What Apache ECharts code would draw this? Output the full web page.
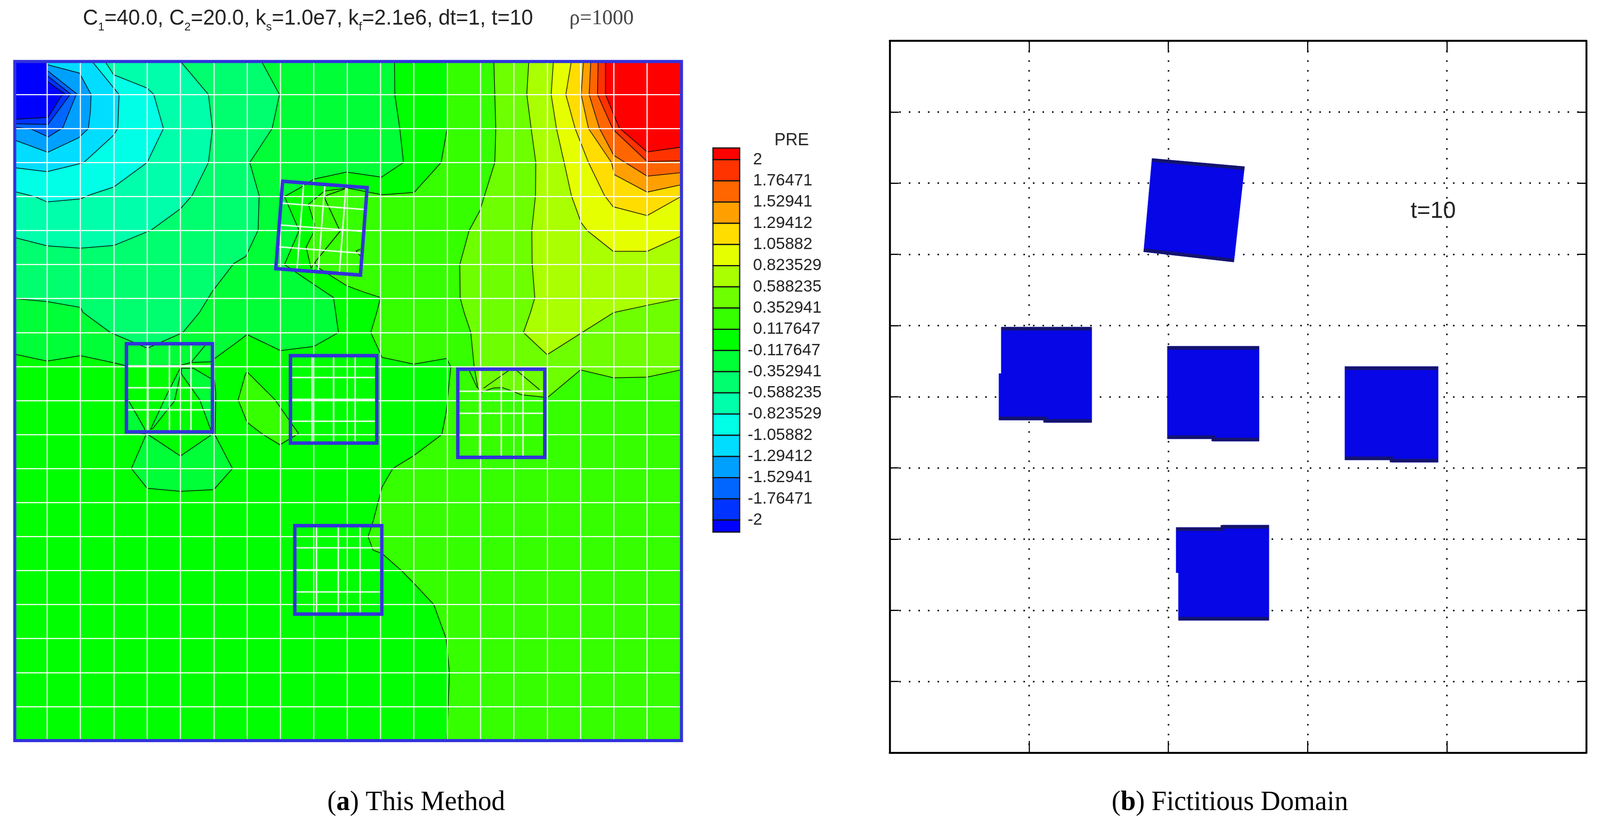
<!DOCTYPE html>
<html>
<head>
<meta charset="utf-8">
<title>PRE</title>
<script src="https://cdn.jsdelivr.net/npm/echarts@6/dist/echarts.min.js"></script>
<style>
    html, body { margin: 0; padding: 0; background: #fff; overflow: hidden; }
    #chart { width: 4190px; height: 2103px; transform-origin: 0 0; }
</style>
</head>
<body>
<div id="chart"></div>
<script>
// colour bar: levels and labels from top to bottom, one band more than levels
var levels = [2, 1.76471, 1.52941, 1.29412, 1.05882, 0.823529, 0.588235, 0.352941, 0.117647,
    -0.117647, -0.352941, -0.588235, -0.823529, -1.05882, -1.29412, -1.52941, -1.76471, -2];
var bandColors = ['#ff0000', '#ff3300', '#ff6600', '#ffa000', '#ffdd00', '#e6ff00', '#aaff00', '#6eff00', '#36ff00', '#00ff00',
    '#00ff36', '#00ff6e', '#00ffaa', '#00ffe6', '#00ddff', '#00a0ff', '#0066ff', '#0033ff', '#0000ff'];

// contour regions of the pressure field, in mesh cells (x right, y down)
var below2 = [[1, 0], [1, 0.61], [1.53, 0.98], [1.43, 1.04], [1.03, 1.67], [0, 1.73], [0, 0]];
var below176 = [[1, 0], [1, 0.44], [1.7, 0.98], [1.66, 1.04], [1.03, 1.88], [0, 1.86], [0, 0]];
var below153 = [[1, 0], [1, 0.29], [1.89, 0.98], [1.85, 1.06], [1.47, 1.98], [1.03, 2.25], [0.53, 2.02], [0, 1.96], [0, 0]];
var below129 = [[1, 0], [1, 0.12], [1.97, 0.37], [2.32, 1], [2.3, 1.48], [2.24, 2], [1.95, 2.27], [1.02, 2.7], [0, 2.33], [0, 0]];
var below106 = [[2.33, 0], [3.16, 1], [3.12, 2], [2.98, 2.21], [2.1, 3], [1.99, 3.03], [1, 3.27], [0, 3.15], [0, 0]];
var below082 = [[2.72, 0], [3, 0.42], [4, 0.81], [4.2, 1], [4.49, 2], [4, 3], [3, 3.72], [2.29, 3.95], [2, 4.07], [1, 4.16], [0.65, 4.01], [0, 3.85], [0, 0]];
var below059 = [[4.98, 0], [5.84, 1], [5.96, 2], [5.84, 3], [5.35, 3.97], [5, 4.36], [4.12, 4.99], [3, 5.44], [2, 5.52], [1, 5.45], [0, 5.2], [0, 0]];
var below035 = [[7.42, 0], [7.97, 1], [7.75, 2], [7.08, 3], [7.36, 3.97], [7.33, 4.99], [6.96, 5.76], [6.6, 5.97], [5.95, 6.8], [5.57, 7.41], [5.07, 8],
    [4.01, 8.46], [2.9, 8], [2.08, 7.41], [2, 7.26], [1, 7.09], [0, 7], [0, 0]];
var below012 = [[11.42, 0], [11.43, 1], [11.58, 2], [11.69, 3], [11.03, 3.43], [9.98, 3.28], [9, 3.49], [8.63, 3.72], [8.12, 4], [8.56, 5], [8.12, 6], [8.98, 6.57],
    [9.59, 6.97], [9.65, 7.37], [9.74, 8], [9, 8.41], [8, 8.53], [7, 8.06], [6.69, 8.29], [5.89, 8.86], [5.32, 8.88], [5.01, 8.96], [3.33, 8.97], [3, 8.89],
    [2, 8.68], [1, 8.84], [0, 8.63], [0, 0]];
var below012Lobe = [[3.96, 11.02], [3.53, 12], [4, 12.58], [5, 12.67], [6, 12.62], [6.56, 12], [6.04, 11.02], [6.06, 9.79], [6.02, 9.39], [5.89, 9.34], [5.39, 9.05],
    [5.03, 9.05], [5.03, 9.22], [5.58, 9.98], [5.89, 10.81], [5.97, 10.98], [5, 11.63], [4.06, 11.02]];
var below012Wedge = [[4.99, 9.05], [4.59, 9.83], [4.11, 10.84], [4.17, 10.82], [4.61, 10.27], [4.82, 10.02], [4.99, 9.26]];
var below012Corner = [[3.37, 9.98], [3.43, 9.98], [3.92, 10.82], [3.96, 10.98], [3.37, 10.92]];

var above012 = [[13, 0], [13, 2], [12.82, 3], [12.01, 3.88], [11.05, 3.95], [10, 3.75], [9.4, 3.96], [9.32, 4.04], [9.79, 5.02], [9.21, 5.72], [9.03, 5.94], [9.13, 6.09],
    [9.98, 6.62], [10.5, 6.81], [11, 6.97], [10.9, 7.37], [10.71, 8], [11.05, 8.73], [12, 8.93], [12.99, 8.76], [13.11, 9.01], [12.97, 10.35], [12.84, 11], [12, 11.62],
    [11.37, 12], [11.05, 12.54], [10.78, 13.55], [10.63, 14], [10.78, 14.4], [11.05, 14.5], [11.63, 15], [12, 15.37], [12.6, 16], [12.97, 17], [13.07, 18], [12.99, 20],
    [20, 20], [20, 0]];
var above012Lens = [[10, 3.75], [9.32, 3.84], [8.84, 4.23], [9.02, 4.81], [9, 5.04], [8.77, 5.49], [8.92, 6.11], [9.03, 5.94], [9.21, 5.72], [9.79, 5.02], [9.32, 4.04], [9.4, 3.96]];
var above012Island = [[7, 9.16], [7.83, 9.97], [8.18, 10.46], [8.54, 10.97], [8.31, 11.11], [7.98, 11.3], [7.45, 10.98], [7, 10.64], [6.73, 9.98], [6.95, 9.22]];
var above035 = [[14.4, 0], [14.46, 2], [14.43, 3], [13.98, 4.42], [13.66, 5], [13.38, 6], [13.39, 6.98], [13.51, 7.41], [13.71, 8], [13.81, 9], [13.92, 9.62], [14.01, 9.76],
    [14.39, 9.63], [14.66, 9.62], [15, 9.74], [15.23, 9.83], [15.82, 9.89], [16, 9.92], [17, 9.1], [17.99, 9.33], [19, 9.31], [20, 9.1], [20, 0]];
var above059 = [[15.45, 0], [15.39, 1], [15.52, 2], [15.66, 3], [15.65, 3.97], [15.54, 4.99], [15.55, 5.97], [15.63, 6.98], [15.5, 7.41], [15.29, 8], [16, 8.65], [17, 8.03],
    [18, 7.41], [19, 7.2], [20, 7], [20, 0]];
var above082 = [[16.19, 0], [16.12, 1], [16.28, 2], [16.51, 3], [16.73, 3.98], [17.02, 4.77], [17.2, 5], [17.98, 5.61], [19, 5.61], [20, 5.17], [20, 0]];
var above106 = [[16.73, 0], [16.56, 1], [16.84, 2], [17.24, 3], [17.72, 3.97], [17.98, 4.3], [19, 4.56], [20, 4.01], [20, 0]];
var above129 = [[17.09, 0], [17.02, 1], [17.24, 2], [17.93, 3], [18.02, 3.36], [19, 3.87], [20, 3.66], [20, 0]];
var above153 = [[17.31, 0], [17.26, 1], [17.57, 2], [18, 2.79], [19, 3.4], [20, 3.3], [20, 0]];
var above176 = [[17.53, 0], [17.51, 1], [17.98, 2.03], [19, 2.97], [20, 2.95], [20, 0]];
var above2 = [[17.75, 0], [17.75, 1], [18.16, 1.98], [19, 2.69], [20, 2.55], [20, 0]];
var wholeField = [[0, 0], [20, 0], [20, 20], [0, 20]];

// loose contour pieces inside the bodies
var looseContours = [
    [[5.32, 8.88], [5.74, 8.38]],
    [[13.67, 9.13], [13.9, 9.62]],
    [[14.09, 9.64], [14.58, 9.3], [14.89, 9.09], [15.08, 9.11], [15.77, 9.68]],
    [[10.4, 5.55], [10.27, 5.6], [10.4, 5.75]]
];

// bodies of the left plot: top left, top right, bottom right, bottom left corner
var meshBodies = [
    [[8.065, 3.55], [10.6, 3.74], [10.4, 6.31], [7.86, 6.12]],
    [[3.38, 8.33], [5.96, 8.33], [5.96, 10.92], [3.38, 10.92]],
    [[8.3, 8.68], [10.89, 8.68], [10.89, 11.25], [8.3, 11.25]],
    [[8.43, 13.68], [11.04, 13.68], [11.04, 16.28], [8.43, 16.28]],
    [[13.32, 9.08], [15.93, 9.08], [15.93, 11.67], [13.32, 11.67]]
];
var meshFractions = [0.25, 0.5, 0.75];
var fieldFrame = [[0.03, 0.03], [20.03, 0.03], [20.03, 20], [0.03, 20]];

// bodies of the right plot
var solidBodies = [
    [[3.766, 8.346], [5.093, 8.232], [4.94, 6.893], [3.646, 7.036]],
    [[1.601, 5.977], [2.9, 5.977], [2.9, 4.639], [2.23, 4.639], [2.23, 4.672], [1.568, 4.672], [1.568, 5.325], [1.601, 5.325]],
    [[3.986, 5.709], [5.302, 5.709], [5.302, 4.376], [4.644, 4.376], [4.644, 4.409], [3.986, 4.409]],
    [[6.535, 5.424], [7.873, 5.424], [7.873, 4.08], [7.204, 4.08], [7.204, 4.113], [6.535, 4.113]],
    [[4.112, 3.164], [4.775, 3.164], [4.775, 3.197], [5.444, 3.197], [5.444, 1.859], [4.145, 1.859], [4.145, 2.528], [4.112, 2.528]]
];
var solidEdges = [
    [[3.766, 8.325], [5.093, 8.21]],
    [[3.646, 7.06], [4.94, 6.915]],
    [[1.601, 5.955], [2.9, 5.955]],
    [[1.568, 4.695], [2.23, 4.695], [2.23, 4.662], [2.9, 4.662]],
    [[3.986, 5.685], [5.302, 5.685]],
    [[3.986, 4.432], [4.644, 4.432], [4.644, 4.399], [5.302, 4.399]],
    [[6.535, 5.4], [7.873, 5.4]],
    [[6.535, 4.135], [7.204, 4.135], [7.204, 4.103], [7.873, 4.103]],
    [[4.112, 3.14], [4.775, 3.14], [4.775, 3.173], [5.444, 3.173]],
    [[4.145, 1.883], [5.444, 1.883]]
];

var BODY_BLUE = '#3232dc';
var DARK_TEXT = '#222222';

/**
 * 取等值线某一层以上(或以下)区域的颜色
 */
function colorAbove(level) {
    return bandColors[levels.indexOf(level)];
}

function colorBelow(level) {
    return bandColors[levels.indexOf(level) + 1];
}

var fieldLayers = [
    [wholeField, colorAbove(-0.117647)],
    [below012, colorBelow(-0.117647)],
    [below012Lobe, colorBelow(-0.117647)],
    [below012Wedge, colorBelow(-0.117647)],
    [below012Corner, colorBelow(-0.117647)],
    [below035, colorBelow(-0.352941)],
    [below059, colorBelow(-0.588235)],
    [below082, colorBelow(-0.823529)],
    [below106, colorBelow(-1.05882)],
    [below129, colorBelow(-1.29412)],
    [below153, colorBelow(-1.52941)],
    [below176, colorBelow(-1.76471)],
    [below2, colorBelow(-2)],
    [above012, colorAbove(0.117647)],
    [above012Lens, colorAbove(0.117647)],
    [above012Island, colorAbove(0.117647)],
    [above035, colorAbove(0.352941)],
    [above059, colorAbove(0.588235)],
    [above082, colorAbove(0.823529)],
    [above106, colorAbove(1.05882)],
    [above129, colorAbove(1.29412)],
    [above153, colorAbove(1.52941)],
    [above176, colorAbove(1.76471)],
    [above2, colorAbove(2)]
];

function toPixels(api, ring) {
    return ring.map(function (point) {
        return api.coord(point);
    });
}

function indexData(list) {
    return list.map(function (item, index) {
        return [index];
    });
}

function renderFieldLayer(params, api) {
    var layer = fieldLayers[params.dataIndex];
    return {
        type: 'polygon',
        shape: { points: toPixels(api, layer[0]) },
        style: { fill: layer[1], stroke: 'rgba(0,0,0,0.85)', lineWidth: 2 }
    };
}

function renderLooseContour(params, api) {
    return {
        type: 'polyline',
        shape: { points: toPixels(api, looseContours[params.dataIndex]) },
        style: { fill: null, stroke: 'rgba(0,0,0,0.85)', lineWidth: 2 }
    };
}

function lerp(a, b, t) {
    return [a[0] + (b[0] - a[0]) * t, a[1] + (b[1] - a[1]) * t];
}

/**
 * 单个物体: 内部网格 + 外框
 */
function renderMeshBody(params, api) {
    var c = meshBodies[params.dataIndex];
    var children = [];
    meshFractions.forEach(function (f) {
        var lines = [[lerp(c[0], c[1], f), lerp(c[3], c[2], f)], [lerp(c[0], c[3], f), lerp(c[1], c[2], f)]];
        lines.forEach(function (line) {
            children.push({
                type: 'polyline',
                shape: { points: toPixels(api, line) },
                style: { fill: null, stroke: 'rgba(255,255,255,0.85)', lineWidth: 4 }
            });
        });
    });
    children.push({
        type: 'polygon',
        shape: { points: toPixels(api, c) },
        style: { fill: null, stroke: BODY_BLUE, lineWidth: 9 }
    });
    return { type: 'group', children: children };
}

function renderFrame(params, api) {
    return {
        type: 'polygon',
        shape: { points: toPixels(api, fieldFrame) },
        style: { fill: null, stroke: BODY_BLUE, lineWidth: 8 }
    };
}

var barMin = -2.134;
var barMax = 2.13;

function renderBarBand(params, api) {
    var i = params.dataIndex;
    var top = i === 0 ? barMax : levels[i - 1];
    var bottom = i === levels.length ? barMin : levels[i];
    var p0 = api.coord([0, top]);
    var p1 = api.coord([1, bottom]);
    var children = [{
        type: 'rect',
        shape: { x: p0[0], y: p0[1], width: p1[0] - p0[0], height: p1[1] - p0[1] },
        style: { fill: bandColors[i], stroke: '#111111', lineWidth: 3 }
    }];
    if (i < levels.length) {
        children.push({
            type: 'text',
            x: p1[0] + (levels[i] < 0 ? 21 : 35),
            y: p1[1],
            style: {
                text: String(levels[i]),
                fill: DARK_TEXT,
                font: '43px "Liberation Sans"',
                textAlign: 'left',
                textVerticalAlign: 'middle'
            }
        });
    }
    return { type: 'group', children: children };
}

function renderSolidBody(params, api) {
    return {
        type: 'polygon',
        shape: { points: toPixels(api, solidBodies[params.dataIndex]) },
        style: { fill: '#0606e6', stroke: '#0606e6', lineWidth: 1 }
    };
}

function renderSolidEdge(params, api) {
    return {
        type: 'polyline',
        shape: { points: toPixels(api, solidEdges[params.dataIndex]) },
        style: { fill: null, stroke: '#14146e', lineWidth: 9 }
    };
}

function customSeries(name, renderItem, list, axisIndex, z) {
    return {
        name: name,
        type: 'custom',
        renderItem: renderItem,
        data: indexData(list),
        xAxisIndex: axisIndex,
        yAxisIndex: axisIndex,
        coordinateSystem: 'cartesian2d',
        clip: false,
        silent: true,
        z: z
    };
}

var fieldAxisX = {
    type: 'value', gridIndex: 0, min: 0, max: 20, interval: 1, z: 3,
    axisLine: { show: false }, axisTick: { show: false }, axisLabel: { show: false },
    splitLine: { show: true, lineStyle: { color: 'rgba(255,255,255,0.92)', width: 3 } }
};
var fieldAxisY = {
    type: 'value', gridIndex: 0, min: 0, max: 20, interval: 1, inverse: true, z: 3,
    axisLine: { show: false }, axisTick: { show: false }, axisLabel: { show: false },
    splitLine: { show: true, lineStyle: { color: 'rgba(255,255,255,0.92)', width: 3 } }
};

function boxAxis(position, isSplit, max, interval, isX) {
    return {
        type: 'value', gridIndex: 2, position: position, min: 0, max: max, interval: interval,
        axisLine: { show: true, onZero: false, lineStyle: { color: '#000', width: 5 } },
        axisTick: { show: true, inside: true, length: isX ? 30 : 24, lineStyle: { color: '#000', width: 3 } },
        axisLabel: { show: false },
        splitLine: { show: isSplit, lineStyle: { color: '#111', width: 4, type: [4, 21] } }
    };
}

var chartDom = document.getElementById('chart');
// the window can come out narrower than the figure, keep the whole figure in view
if (window.innerWidth < 4190) {
    chartDom.style.transform = 'scale(' + (window.innerWidth / 4190) + ', 1)';
}

var option = {
    backgroundColor: '#ffffff',
    animation: false,
    title: [
        {
            left: 217, top: 20, padding: 0,
            text: '{m|C}{s|1}{m|=40.0, C}{s|2}{m|=20.0, k}{s|s}{m|=1.0e7, k}{s|f}{m|=2.1e6, dt=1, t=10}',
            textStyle: {
                fontWeight: 'normal',
                rich: {
                    m: { fontFamily: 'Liberation Sans', fontSize: 55, fontWeight: 'normal', lineHeight: 65, color: DARK_TEXT, verticalAlign: 'top' },
                    s: { fontFamily: 'Liberation Sans', fontSize: 30, fontWeight: 'normal', lineHeight: 65, color: DARK_TEXT, verticalAlign: 'bottom' }
                }
            }
        },
        { left: 1491, top: 20, padding: 0, text: 'ρ=1000', textStyle: { fontFamily: 'Liberation Serif', fontSize: 55, fontWeight: 'normal', color: '#444444' } },
        { left: 2028, top: 338, padding: 0, text: 'PRE', textStyle: { fontFamily: 'Liberation Sans', fontSize: 44, fontWeight: 'normal', color: DARK_TEXT } },
        { left: 3694, top: 511, padding: 0, text: 't=10', textStyle: { fontFamily: 'Liberation Sans', fontSize: 60, fontWeight: 'normal', color: DARK_TEXT } },
        {
            left: 857, top: 2021, padding: 0,
            text: '{r|(}{b|a}{r|) This Method}',
            textStyle: {
                fontWeight: 'normal',
                rich: {
                    r: { fontFamily: 'Liberation Serif', fontSize: 71, fontWeight: 'normal', color: '#000' },
                    b: { fontFamily: 'Liberation Serif', fontSize: 71, fontWeight: 'bold', color: '#000' }
                }
            }
        },
        {
            left: 2911, top: 2021, padding: 0,
            text: '{r|(}{b|b}{r|) Fictitious Domain}',
            textStyle: {
                fontWeight: 'normal',
                rich: {
                    r: { fontFamily: 'Liberation Serif', fontSize: 71, fontWeight: 'normal', color: '#000' },
                    b: { fontFamily: 'Liberation Serif', fontSize: 71, fontWeight: 'bold', color: '#000' }
                }
            }
        }
    ],
    grid: [
        { left: 36, top: 155, width: 1746, height: 1742 },
        { left: 1867, top: 379, width: 70, height: 984 },
        { left: 2330, top: 104.5, width: 1824, height: 1823.5 }
    ],
    xAxis: [
        fieldAxisX,
        { type: 'value', gridIndex: 1, min: 0, max: 1, show: false },
        boxAxis('bottom', true, 10, 2, true),
        boxAxis('top', false, 10, 2, true)
    ],
    yAxis: [
        fieldAxisY,
        { type: 'value', gridIndex: 1, min: barMin, max: barMax, show: false },
        boxAxis('left', true, 10, 1, false),
        boxAxis('right', false, 10, 1, false)
    ],
    series: [
        customSeries('field', renderFieldLayer, fieldLayers, 0, 1),
        customSeries('loose', renderLooseContour, looseContours, 0, 2),
        customSeries('bodies', renderMeshBody, meshBodies, 0, 5),
        customSeries('frame', renderFrame, [fieldFrame], 0, 6),
        customSeries('bar', renderBarBand, bandColors, 1, 2),
        customSeries('solid', renderSolidBody, solidBodies, 2, 4),
        customSeries('solidEdge', renderSolidEdge, solidEdges, 2, 5)
    ]
};

var myChart = echarts.init(chartDom, null, { renderer: 'canvas' });
myChart.setOption(option, true);
</script>
</body>
</html>
